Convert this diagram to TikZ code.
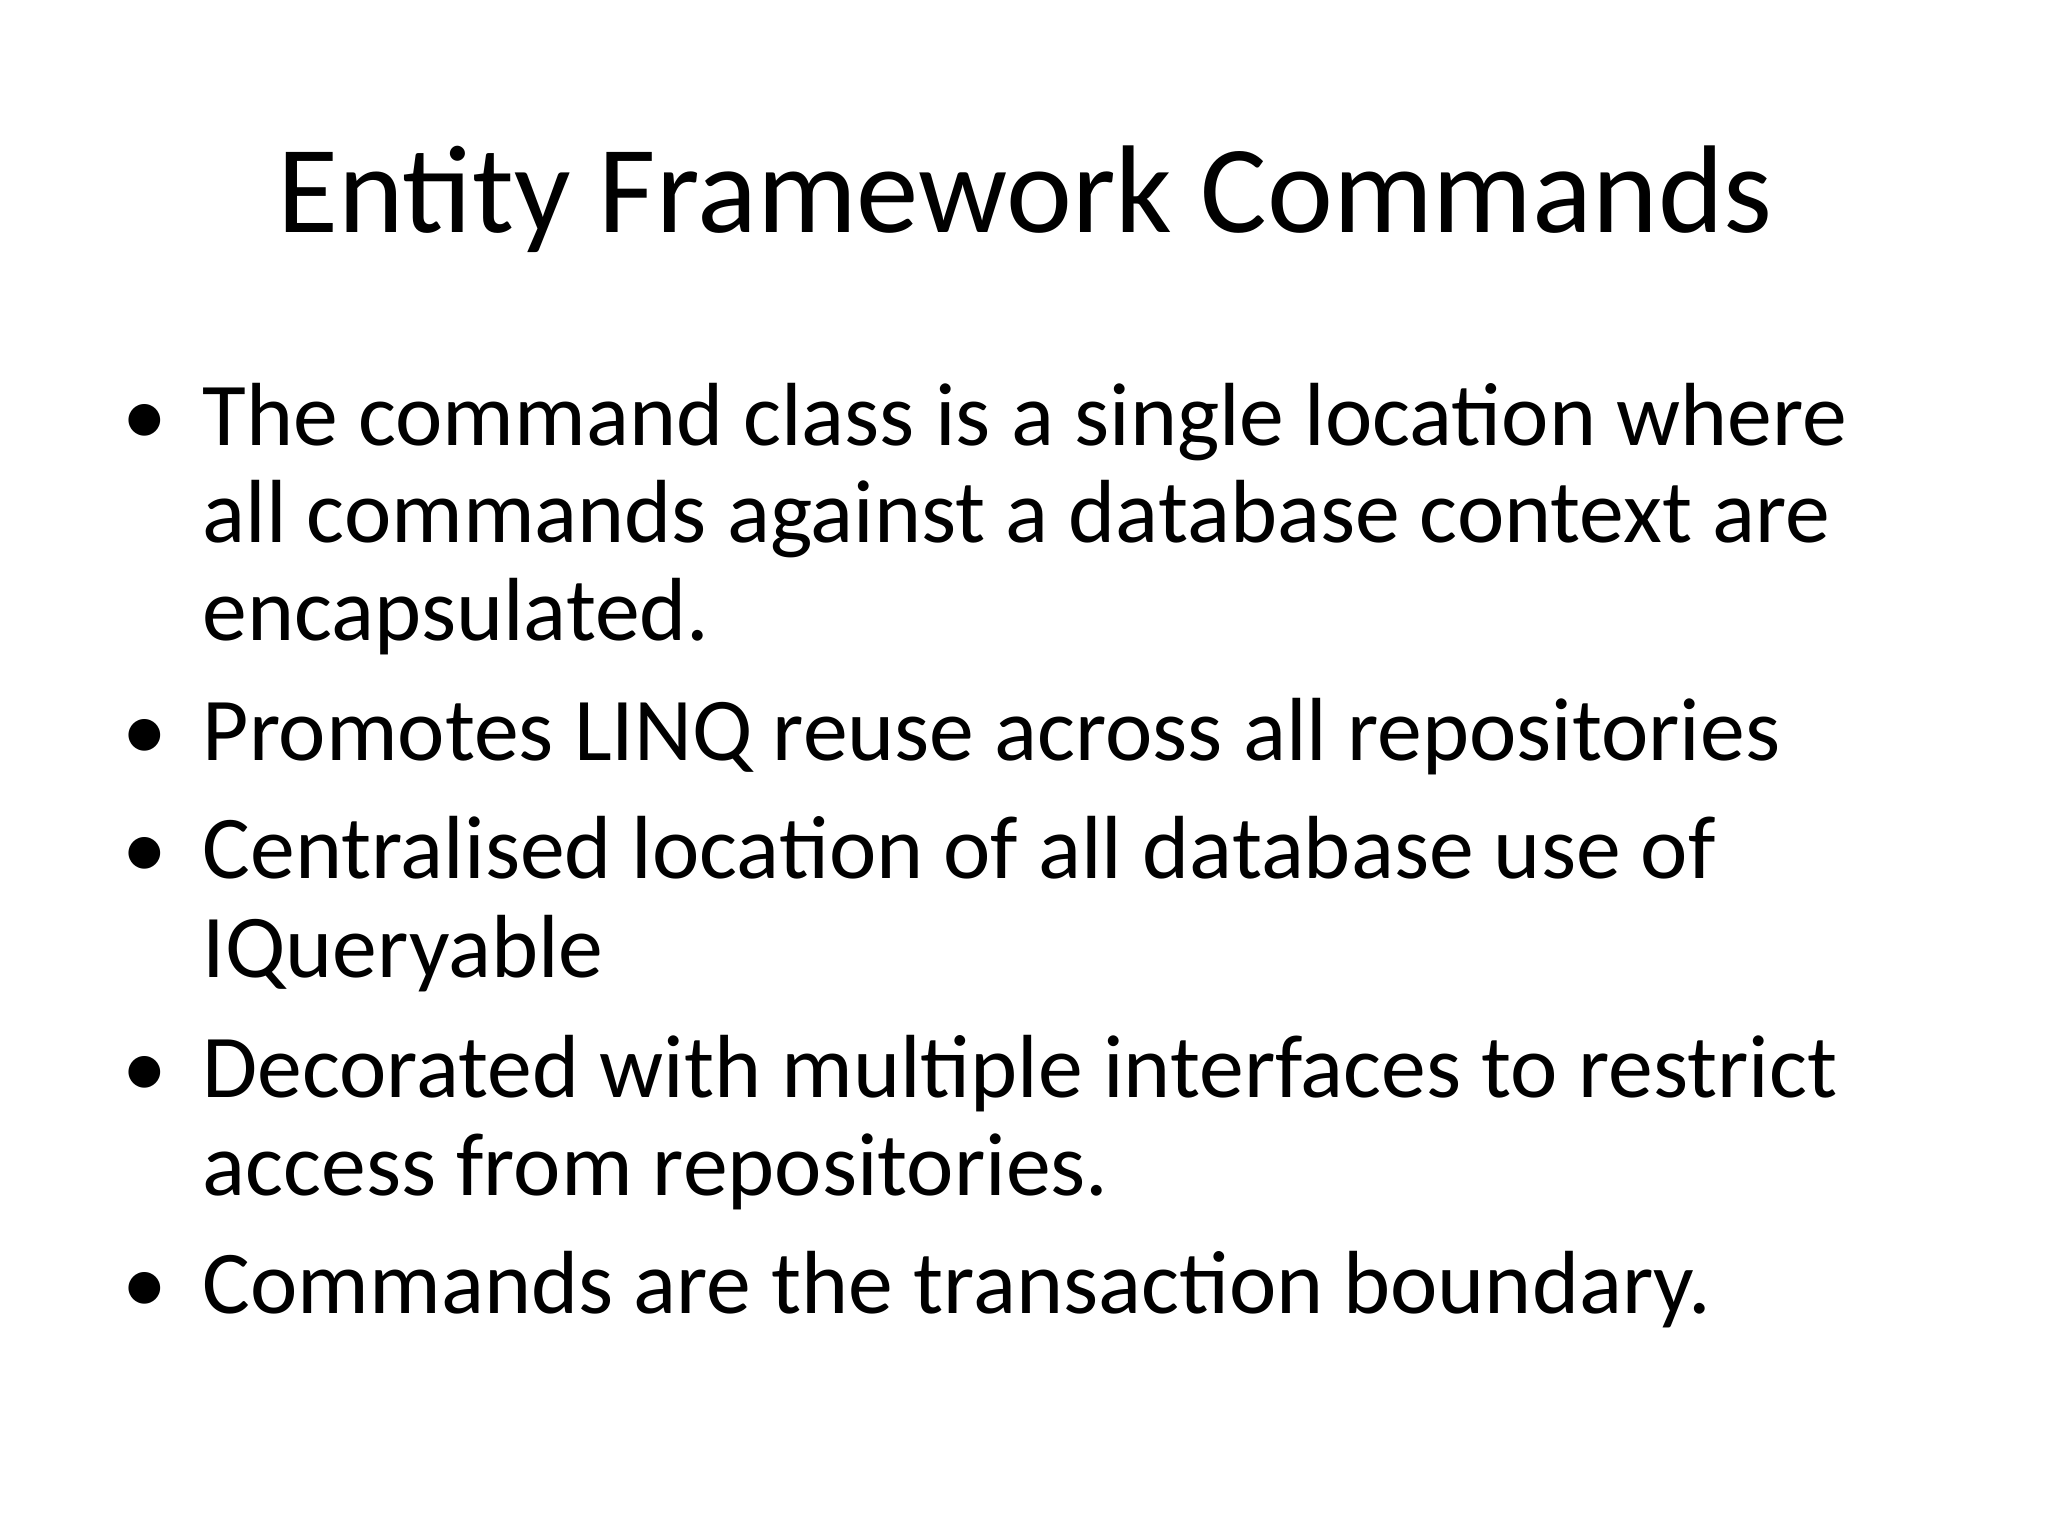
\documentclass[tikz,border=0pt]{standalone}
\usepackage{fontspec}
\setmainfont{Carlito}
\begin{document}
\begin{tikzpicture}[x=0.01cm,y=-0.01cm,
  ln/.style={anchor=base west,inner sep=0pt,font=\fontsize{25.5pt}{28pt}\selectfont},
  bul/.style={anchor=base west,inner sep=0pt,font=\fontsize{25.5pt}{28pt}\selectfont}]
\useasboundingbox (0,0) rectangle (2048,1536);
\node[anchor=base,inner sep=0pt,font=\fontsize{35.5pt}{40pt}\selectfont] (title) at (1025,232) {Entity Framework Commands};
\foreach \y/\n in {445/b1,760/b2,878/b3,1097/b4,1313/b5}
  \node[bul] (\n) at (122,\y) {•};
\node[ln] (l1) at (202,445) {The command class is a single location where};
\node[ln] (l2) at (202,542) {all commands against a database context are};
\node[ln] (l3) at (202,640) {encapsulated.};
\node[ln] (l4) at (202,760) {Promotes LINQ reuse across all repositories};
\node[ln] (l5) at (202,878) {Centralised location of all database use of};
\node[ln] (l6) at (202,977) {IQueryable};
\node[ln] (l7) at (202,1097) {Decorated with multiple interfaces to restrict};
\node[ln] (l8) at (202,1195) {access from repositories.};
\node[ln] (l9) at (202,1313) {Commands are the transaction boundary.};
\end{tikzpicture}
\end{document}
